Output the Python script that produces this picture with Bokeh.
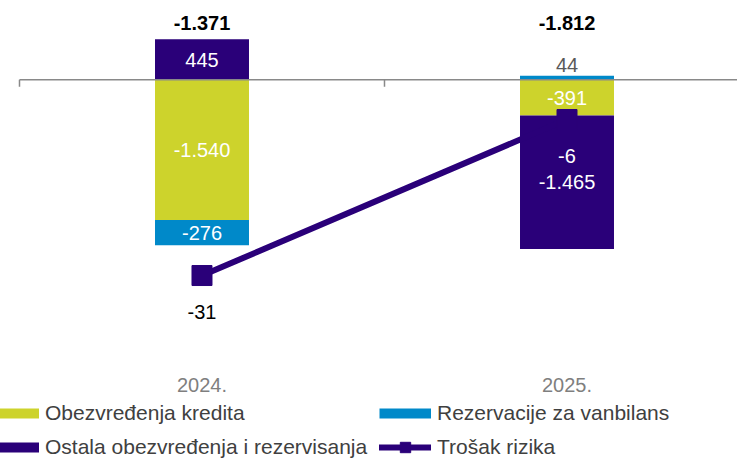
from bokeh.plotting import figure
from bokeh.models import Range1d, FixedTicker, Legend, LegendItem
from bokeh.layouts import column
from bokeh.core.properties import value
from bokeh.embed import file_html
from bokeh.resources import INLINE

# ---- data ----
categories = ["2024.", "2025."]
obezvredjenja_kredita = [-1540, -391]
rezervacije_vanbilans = [-276, 44]
ostala_obezvredjenja = [445, -1465]
trosak_rizika = [-31, -6]

series_names = ["Obezvređenja kredita", "Rezervacije za vanbilans",
                "Ostala obezvređenja i rezervisanja"]
line_name = "Trošak rizika"

# ---- style ----
YELLOW = "#CDD32C"
BLUE = "#0089C9"
PURPLE = "#2A0079"
GRID_GRAY = "#898989"
FONT = "Liberation Sans"


def fmt(v):
    return f"{v:,}".replace(",", ".")


x = list(range(len(categories)))
n = len(categories)

p = figure(width=737, height=400, output_backend="svg", toolbar_location=None,
           x_range=Range1d(-0.55205, 1.46712), y_range=Range1d(-3202, 782.7),
           y_axis_location=None, min_border_left=0, min_border_right=0,
           min_border_top=8, min_border_bottom=29)
p.extra_y_ranges = {"risk": Range1d(-46.38, 11.79)}
p.grid.visible = False
p.outline_line_color = None
p.background_fill_color = "white"

# ---- stacked bars ----
series = [obezvredjenja_kredita, rezervacije_vanbilans, ostala_obezvredjenja]
colors = [YELLOW, BLUE, PURPLE]
pos = [0] * n
neg = [0] * n
in_x, in_y, in_t = [], [], []
out_x, out_y, out_t = [], [], []
for vals, color in zip(series, colors):
    bottoms, tops = [], []
    for i, v in enumerate(vals):
        if v >= 0:
            b = pos[i]
            t = b + v
            pos[i] = t
        else:
            b = neg[i]
            t = b + v
            neg[i] = t
        bottoms.append(b)
        tops.append(t)
        if abs(v) < 150:
            out_x.append(x[i]); out_y.append(max(b, t)); out_t.append(fmt(v))
        else:
            in_x.append(x[i]); in_y.append((b + t) / 2); in_t.append(fmt(v))
    p.vbar(x=x, bottom=bottoms, top=tops, width=0.2575,
           fill_color=color, line_color=None)

# zero line and category boundary ticks
bounds = [i - 0.5 for i in range(n)]
p.segment(x0=[bounds[0]], y0=[0], x1=[n - 0.5], y1=[0],
          line_color=GRID_GRAY, line_width=1.5)
p.segment(x0=bounds, y0=[0] * n, x1=bounds, y1=[-75] * n,
          line_color=GRID_GRAY, line_width=1.5)

# bar labels
p.text(x=in_x, y=in_y, text=in_t, text_color="white", text_align="center",
       text_baseline="middle", text_font=value(FONT), text_font_size="20px")
p.text(x=out_x, y=out_y, text=out_t, text_color="#595959", text_align="center",
       text_baseline="middle", y_offset=-11, text_font=value(FONT),
       text_font_size="20px")

# totals
totals = [sum(s[i] for s in series) for i in range(n)]
p.text(x=x, y=[p.y_range.end] * n, text=[fmt(t) for t in totals],
       text_color="black", text_align="center", text_baseline="middle",
       y_offset=14, text_font=value(FONT), text_font_size="20px",
       text_font_style="bold")

# ---- line (secondary scale) ----
p.line(x=x, y=trosak_rizika, y_range_name="risk", line_color=PURPLE,
       line_width=6, line_cap="round")
p.scatter(x=x, y=trosak_rizika, y_range_name="risk", marker="square",
          size=20, fill_color=PURPLE, line_color=PURPLE)
p.text(x=x, y=trosak_rizika, y_range_name="risk",
       text=[fmt(v) for v in trosak_rizika], text_color=["black", "white"],
       text_align="center", text_baseline="middle", y_offset=36,
       text_font=value(FONT), text_font_size="20px")

# ---- x axis ----
p.xaxis.ticker = FixedTicker(ticks=x)
p.xaxis.major_label_overrides = {i: c for i, c in enumerate(categories)}
p.xaxis.axis_line_color = None
p.xaxis.major_tick_line_color = None
p.xaxis.minor_tick_line_color = None
p.xaxis.major_tick_out = 0
p.xaxis.major_tick_in = 0
p.xaxis.major_label_standoff = 6
p.xaxis.major_label_text_font = FONT
p.xaxis.major_label_text_font_size = "20px"
p.xaxis.major_label_text_color = "#7F7F7F"

# ---- legend (own strip below the chart) ----
# proxy renderers carry the series data but sit outside this strip's view,
# so only their legend swatches are drawn
pl = figure(width=737, height=62, output_backend="svg", toolbar_location=None,
            x_range=Range1d(100, 101), y_range=Range1d(100, 101),
            x_axis_location=None, y_axis_location=None,
            min_border_left=0, min_border_right=0, min_border_top=0,
            min_border_bottom=0)
pl.grid.visible = False
pl.outline_line_color = None
leg_rs = [pl.line(x=x, y=vals, line_width=10, line_color=c)
          for vals, c in zip(series, colors)]
leg_line = pl.line(x=x, y=trosak_rizika, line_color=PURPLE, line_width=6,
                   line_cap="round")
leg_mark = pl.scatter(x=x, y=trosak_rizika, marker="square",
                      fill_color=PURPLE, line_color=PURPLE)
items = [LegendItem(label=nm, renderers=[r]) for nm, r in zip(series_names, leg_rs)]
items.append(LegendItem(label=line_name, renderers=[leg_line, leg_mark]))
legend = Legend(items=items, orientation="horizontal", ncols=2,
                location=(-13, 2), glyph_width=52, glyph_height=26,
                label_height=26, label_width=326, label_standoff=6, spacing=8,
                padding=0, margin=0, border_line_color=None,
                background_fill_alpha=0, label_text_font=FONT,
                label_text_font_size="21px", label_text_color="#404040")
pl.add_layout(legend)

open("out.html", "w").write(file_html(column(p, pl, spacing=0), INLINE))
